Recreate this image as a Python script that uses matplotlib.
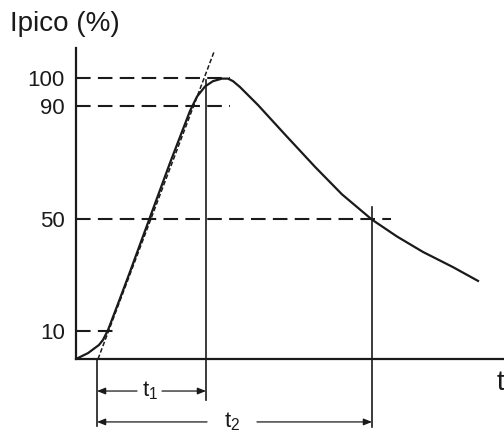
import matplotlib.pyplot as plt

plt.rcParams['font.family'] = ['Liberation Sans', 'DejaVu Sans']

# impulse current waveform (time in arbitrary units, current in % of peak)
t_curve = [0, 12, 23, 27, 32, 43, 55, 63, 73, 94, 114, 121, 129, 137, 146, 152,
           157, 164, 182, 209, 239, 266, 296, 321, 347, 377, 402]
i_curve = [0, 2.1, 5.0, 6.8, 10.3, 20.6, 32.0, 39.8, 49.5, 69.8, 88.3, 93.4, 97.0,
           98.9, 99.8, 99.8, 98.9, 96.8, 90.4, 79.9, 68.4, 58.6, 49.6, 43.6, 38.1,
           32.7, 27.8]

# tangent through the 10% and 90% points
t_tangent = [22, 138]
i_tangent = [0, 109.3]

# reference levels and how far their dashed lines reach
levels = [100, 90, 50, 10]
level_ends = [154, 154, 315, 40]
level_labels = ['100', '90', '50', '10']

t_start = 21    # virtual origin
t1_end = 130
t2_end = 296

ink = '#1a1a1a'

fig = plt.figure(figsize=(5.04, 4.38), dpi=100)
ax = fig.add_axes([76 / 504, 79 / 438, 428 / 504, 311 / 438])
ax.set_xlim(0, 428)
ax.set_ylim(0, 110.7)

for side in ['top', 'right']:
    ax.spines[side].set_visible(False)
for side in ['left', 'bottom']:
    ax.spines[side].set_linewidth(1.6)
    ax.spines[side].set_color(ink)

ax.set_xticks([])
ax.set_yticks(levels)
ax.set_yticklabels(level_labels)
ax.tick_params(axis='y', length=0, pad=8, labelsize=16, labelcolor=ink)

# dashed level lines
for lv, end in zip(levels, level_ends):
    ax.plot([0, end], [lv, lv], color=ink, lw=1.5, dashes=(7, 3.5), solid_capstyle='butt')

# waveform and tangent
ax.plot(t_curve, i_curve, color=ink, lw=1.6)
ax.plot(t_tangent, i_tangent, color=ink, lw=1.1, dashes=(3, 1.5), clip_on=False)

# vertical markers
ax.plot([t1_end, t1_end], [99.3, -14.6], color=ink, lw=1.2, clip_on=False)
ax.plot([t_start, t_start], [0, -23.8], color=ink, lw=1.2, clip_on=False)
ax.plot([t2_end, t2_end], [54.1, -24.2], color=ink, lw=1.2, clip_on=False)

# dimension arrows
arrow = dict(arrowstyle='-|>,head_length=0.5,head_width=0.2', color=ink, lw=0.9,
             shrinkA=0, shrinkB=0)
y_t1 = -11.4
y_t2 = -22.4
ax.annotate('', xy=(t_start, y_t1), xytext=(61, y_t1), arrowprops=arrow, annotation_clip=False)
ax.annotate('', xy=(t1_end, y_t1), xytext=(86, y_t1), arrowprops=arrow, annotation_clip=False)
ax.annotate('', xy=(t_start, y_t2), xytext=(131, y_t2), arrowprops=arrow, annotation_clip=False)
ax.annotate('', xy=(t2_end, y_t2), xytext=(181, y_t2), arrowprops=arrow, annotation_clip=False)

ax.text(74, y_t1, r'$\mathregular{t_1}$', fontsize=16, color=ink, ha='center', va='center',
        clip_on=False)
ax.text(156, y_t2, r'$\mathregular{t_2}$', fontsize=16, color=ink, ha='center', va='center',
        clip_on=False)

# axis labels
ax.text(421, -8.5, 't', fontsize=20, color=ink, ha='left', va='center', clip_on=False)
fig.text(10 / 504, 1 - 31 / 438, 'Ipico (%)', fontsize=20, color=ink, ha='left', va='baseline')

fig.savefig('out.png', dpi=100)
